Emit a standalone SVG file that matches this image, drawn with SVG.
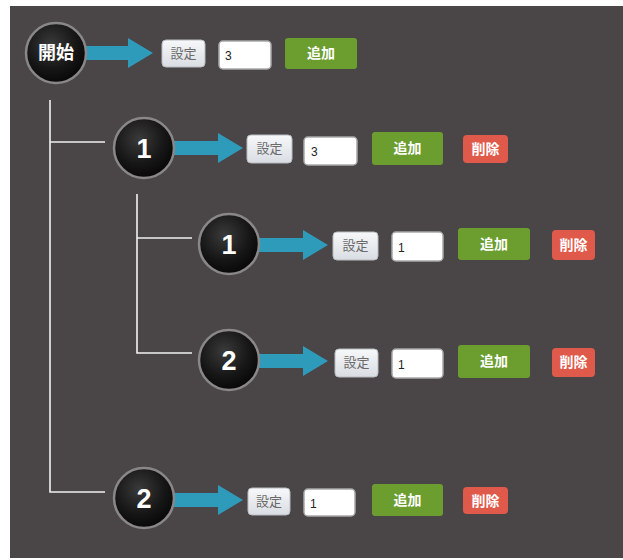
<svg xmlns="http://www.w3.org/2000/svg" width="623" height="560" viewBox="0 0 623 560">
<style>
.bg{fill:#4a4546}
.ring{stroke:#8a8788;stroke-width:2.5}
.nt{font-family:"Liberation Sans",Arial,sans-serif;font-weight:bold;fill:#fff;text-anchor:middle}
.cjk{font-family:"Liberation Sans","Noto Sans CJK JP",sans-serif}
.arrow{fill:#2f9bbb}
.set{fill:url(#gset);stroke:#b8bcc0;stroke-width:1}
.st{font-size:13px;fill:#6a6a6a;text-anchor:middle}
.inp{fill:#fff;stroke:#a9a9a9;stroke-width:1.5}
.it{font-family:"Liberation Sans",Arial,sans-serif;font-size:12px;fill:#222}
.add{fill:#6c9d2f}
.del{fill:#e05a4c}
.bt{font-size:14px;font-weight:bold;fill:#fff;text-anchor:middle}
.line{stroke:#f2f2f2;stroke-width:1.6;fill:none}
</style>
<defs>
<radialGradient id="gnode" cx="0.42" cy="0.35" r="0.7">
<stop offset="0" stop-color="#3a3a3a"/>
<stop offset="0.6" stop-color="#161616"/>
<stop offset="1" stop-color="#050505"/>
</radialGradient>
<linearGradient id="gset" x1="0" y1="0" x2="0" y2="1">
<stop offset="0" stop-color="#f7f8fa"/>
<stop offset="1" stop-color="#d9dde2"/>
</linearGradient>
</defs>
<rect class="bg" x="10" y="6" width="613" height="552"/>
<g id="connectors">
<polyline class="line" points="50,100 50,492 105,492"/>
<line class="line" x1="50" y1="142" x2="105" y2="142"/>
<polyline class="line" points="137,194 137,353 192,353"/>
<line class="line" x1="137" y1="238" x2="192" y2="238"/>
<path class="arrow" d="M86,46 H128 V38 L153,53 L128,68 V60 H86 Z"/>
<path class="arrow" d="M174,141 H218 V133 L243,148 L218,163 V155 H174 Z"/>
<path class="arrow" d="M259,238 H303 V230 L328,245 L303,260 V252 H259 Z"/>
<path class="arrow" d="M259,354 H303 V346 L328,361 L303,376 V368 H259 Z"/>
<path class="arrow" d="M174,493 H218 V485 L243,500 L218,515 V507 H174 Z"/>
</g>
<g id="root">
<circle class="ring" cx="56" cy="53" r="30" fill="url(#gnode)"/>
<text class="nt cjk" x="56" y="59" font-size="18">開始</text>
<rect class="set" x="162" y="40" width="43" height="27" rx="4"/>
<text class="cjk st" x="183.5" y="58">設定</text>
<rect class="inp" x="219" y="41" width="52" height="28" rx="4"/>
<text class="it" x="225" y="60">3</text>
<rect class="add" x="285" y="38" width="72" height="31" rx="3"/>
<text class="cjk bt" x="321" y="58">追加</text>
</g>
<g id="n1">
<circle class="ring" cx="144" cy="148" r="30" fill="url(#gnode)"/>
<text class="nt" x="144" y="158" font-size="27">1</text>
<rect class="set" x="247" y="135" width="45" height="28" rx="4"/>
<text class="cjk st" x="269.5" y="153">設定</text>
<rect class="inp" x="304" y="137" width="53" height="28" rx="4"/>
<text class="it" x="311" y="156">3</text>
<rect class="add" x="372" y="132" width="71" height="33" rx="3"/>
<text class="cjk bt" x="407.5" y="153">追加</text>
<rect class="del" x="463" y="135" width="45" height="28" rx="4"/>
<text class="cjk bt" x="485.5" y="154">削除</text>
</g>
<g id="n1-1">
<circle class="ring" cx="229" cy="244" r="30" fill="url(#gnode)"/>
<text class="nt" x="229" y="254" font-size="27">1</text>
<rect class="set" x="333" y="232" width="45" height="28" rx="4"/>
<text class="cjk st" x="355.5" y="250">設定</text>
<rect class="inp" x="392" y="232" width="51" height="29" rx="4"/>
<text class="it" x="398" y="252">1</text>
<rect class="add" x="458" y="228" width="72" height="32" rx="3"/>
<text class="cjk bt" x="494" y="249">追加</text>
<rect class="del" x="552" y="230" width="43" height="30" rx="4"/>
<text class="cjk bt" x="573.5" y="250">削除</text>
</g>
<g id="n1-2">
<circle class="ring" cx="229" cy="360" r="30" fill="url(#gnode)"/>
<text class="nt" x="229" y="370" font-size="27">2</text>
<rect class="set" x="335" y="349" width="43" height="28" rx="4"/>
<text class="cjk st" x="356.5" y="367">設定</text>
<rect class="inp" x="392" y="349" width="51" height="29" rx="4"/>
<text class="it" x="398" y="369">1</text>
<rect class="add" x="458" y="345" width="72" height="33" rx="3"/>
<text class="cjk bt" x="494" y="366">追加</text>
<rect class="del" x="552" y="348" width="43" height="29" rx="4"/>
<text class="cjk bt" x="573.5" y="367">削除</text>
</g>
<g id="n2">
<circle class="ring" cx="144" cy="498" r="30" fill="url(#gnode)"/>
<text class="nt" x="144" y="508" font-size="27">2</text>
<rect class="set" x="248" y="488" width="42" height="27" rx="4"/>
<text class="cjk st" x="269" y="506">設定</text>
<rect class="inp" x="304" y="489" width="51" height="27" rx="4"/>
<text class="it" x="310" y="508">1</text>
<rect class="add" x="372" y="484" width="71" height="32" rx="3"/>
<text class="cjk bt" x="407.5" y="505">追加</text>
<rect class="del" x="463" y="487" width="45" height="27" rx="4"/>
<text class="cjk bt" x="485.5" y="506">削除</text>
</g>
</svg>
